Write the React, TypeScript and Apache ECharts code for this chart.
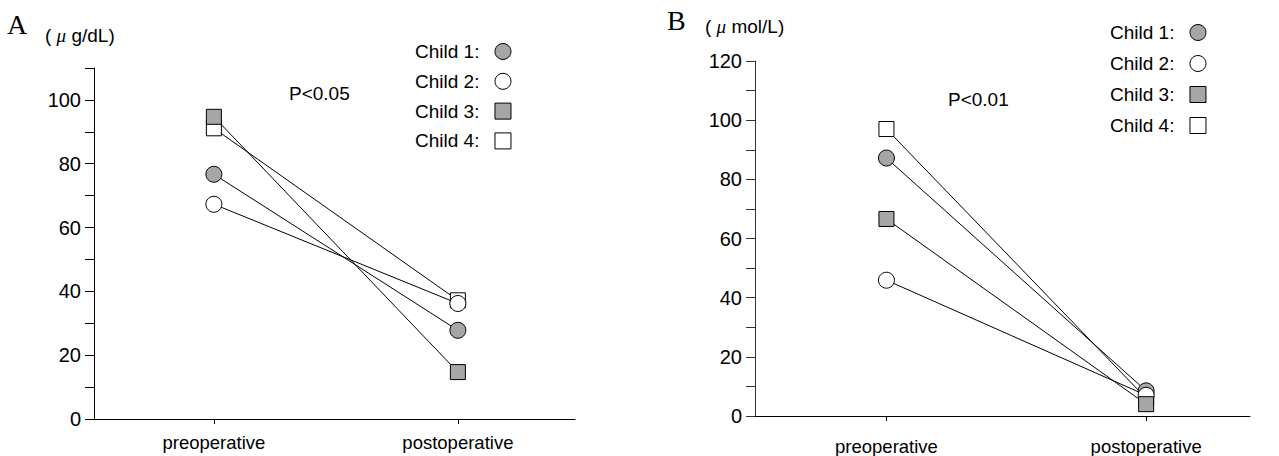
import React, { useEffect, useRef } from 'react';
import * as echarts from 'echarts';

const stages = ['preoperative', 'postoperative'];
const stagePos = [1, 2];
const children = ['Child 1', 'Child 2', 'Child 3', 'Child 4'];
const symbols = ['circle', 'circle', 'rect', 'rect'];
const fills = ['#a6a6a6', '#ffffff', '#a6a6a6', '#ffffff'];
// panel A (μg/dL)
const aPre = [76.7, 67.3, 94.7, 91.1];
const aPost = [27.8, 36.2, 14.7, 37.2];
// panel B (μmol/L)
const bPre = [87.2, 45.9, 66.6, 97.0];
const bPost = [8.5, 7.0, 4.0, 6.0];
const aTickLabels = [0, 20, 40, 60, 80, 100];
const bTickLabels = [0, 20, 40, 60, 80, 100, 120];
const drawOrder = [3, 0, 1, 2];

const SANS = "'Liberation Sans', Arial, sans-serif";
const SERIF = "'Liberation Serif', 'Times New Roman', serif";

function buildSeries(pre: number[], post: number[], axisIndex: number) {
  return drawOrder.map((i) => ({
    type: 'line',
    name: children[i],
    xAxisIndex: axisIndex,
    yAxisIndex: axisIndex,
    data: [
      [stagePos[0], pre[i]],
      [stagePos[1], post[i]],
    ],
    symbol: symbols[i],
    symbolSize: symbols[i] === 'circle' ? 16 : 15,
    showAllSymbol: true,
    itemStyle: { color: fills[i], borderColor: '#000', borderWidth: 1 },
    lineStyle: { color: '#000', width: 1 },
    emphasis: { disabled: true },
    silent: true,
  }));
}

function legendData() {
  return children.map((n, i) => ({
    name: n,
    icon: symbols[i],
    itemStyle: { color: fills[i], borderColor: '#000', borderWidth: 1 },
  }));
}

function xAxis(gridIndex: number, min: number, max: number, margin: number) {
  return {
    type: 'value',
    gridIndex,
    min,
    max,
    axisLine: { show: true, onZero: false, lineStyle: { color: '#000', width: 1 } },
    axisTick: { show: true, customValues: stagePos, length: 5, lineStyle: { color: '#000' } },
    axisLabel: {
      customValues: stagePos,
      formatter: (v: number) => stages[Math.round(v) - 1] ?? '',
      fontSize: 18.5,
      color: '#000',
      fontFamily: SANS,
      margin,
    },
    splitLine: { show: false },
  };
}

function yAxis(gridIndex: number, max: number, offset: number, labels: number[], color: string) {
  return {
    type: 'value',
    gridIndex,
    min: 0,
    max,
    interval: 10,
    offset,
    axisLine: { show: true, lineStyle: { color, width: 1 } },
    axisTick: { show: true, length: 9, lineStyle: { color } },
    axisLabel: {
      formatter: (v: number) => (labels.indexOf(v) >= 0 ? String(v) : ''),
      fontSize: 20,
      color: '#000',
      fontFamily: SANS,
      margin: 13,
    },
    splitLine: { show: false },
  };
}

export default function App() {
  const ref = useRef<HTMLDivElement>(null);
  useEffect(() => {
    if (!ref.current) return;
    const chart = echarts.init(ref.current, null, { renderer: 'svg' });
    const legendCommon = {
      orient: 'vertical',
      align: 'right',
      itemWidth: 16,
      itemHeight: 16,
      formatter: '{name}:  ',
      selectedMode: false,
      textStyle: { fontSize: 19, color: '#000', fontFamily: SANS },
      data: legendData(),
    };
    const muRich = { mu: { fontSize: 19, fontStyle: 'italic', fontFamily: SERIF, fill: '#000' } };
    chart.setOption({
      animation: false,
      backgroundColor: '#fff',
      grid: [
        { left: 87, top: 68, width: 488, bottom: 37 },
        { left: 747, top: 61, width: 503, bottom: 39 },
      ],
      xAxis: [xAxis(0, 0.48, 2.48, 14), xAxis(1, 0.463, 2.4, 21)],
      yAxis: [yAxis(0, 110, -7, aTickLabels, '#000'), yAxis(1, 120, -8, bTickLabels, '#333')],
      legend: [
        { ...legendCommon, left: 410, top: 37, itemGap: 10.8 },
        { ...legendCommon, left: 1105, top: 18, itemGap: 12 },
      ],
      series: [...buildSeries(aPre, aPost, 0), ...buildSeries(bPre, bPost, 1)],
      graphic: [
        { type: 'text', left: 7, top: 10, style: { text: 'A', fontSize: 28, fontFamily: SERIF, fill: '#000' } },
        { type: 'text', left: 667, top: 6, style: { text: 'B', fontSize: 28, fontFamily: SERIF, fill: '#000' } },
        {
          type: 'text', left: 45, top: 26,
          style: { text: '( {mu|μ} g/dL)', fontSize: 19, fontFamily: SANS, fill: '#000', rich: muRich },
        },
        {
          type: 'text', left: 705, top: 17,
          style: { text: '( {mu|μ} mol/L)', fontSize: 19, fontFamily: SANS, fill: '#000', rich: muRich },
        },
        { type: 'text', left: 289, top: 84, style: { text: 'P<0.05', fontSize: 19, fontFamily: SANS, fill: '#000' } },
        { type: 'text', left: 948, top: 90, style: { text: 'P<0.01', fontSize: 19, fontFamily: SANS, fill: '#000' } },
      ],
    });
    return () => chart.dispose();
  }, []);
  return (
    <div
      ref={ref}
      style={{ position: 'fixed', left: 0, top: 0, width: 1279, height: 456, background: '#fff' }}
    />
  );
}
